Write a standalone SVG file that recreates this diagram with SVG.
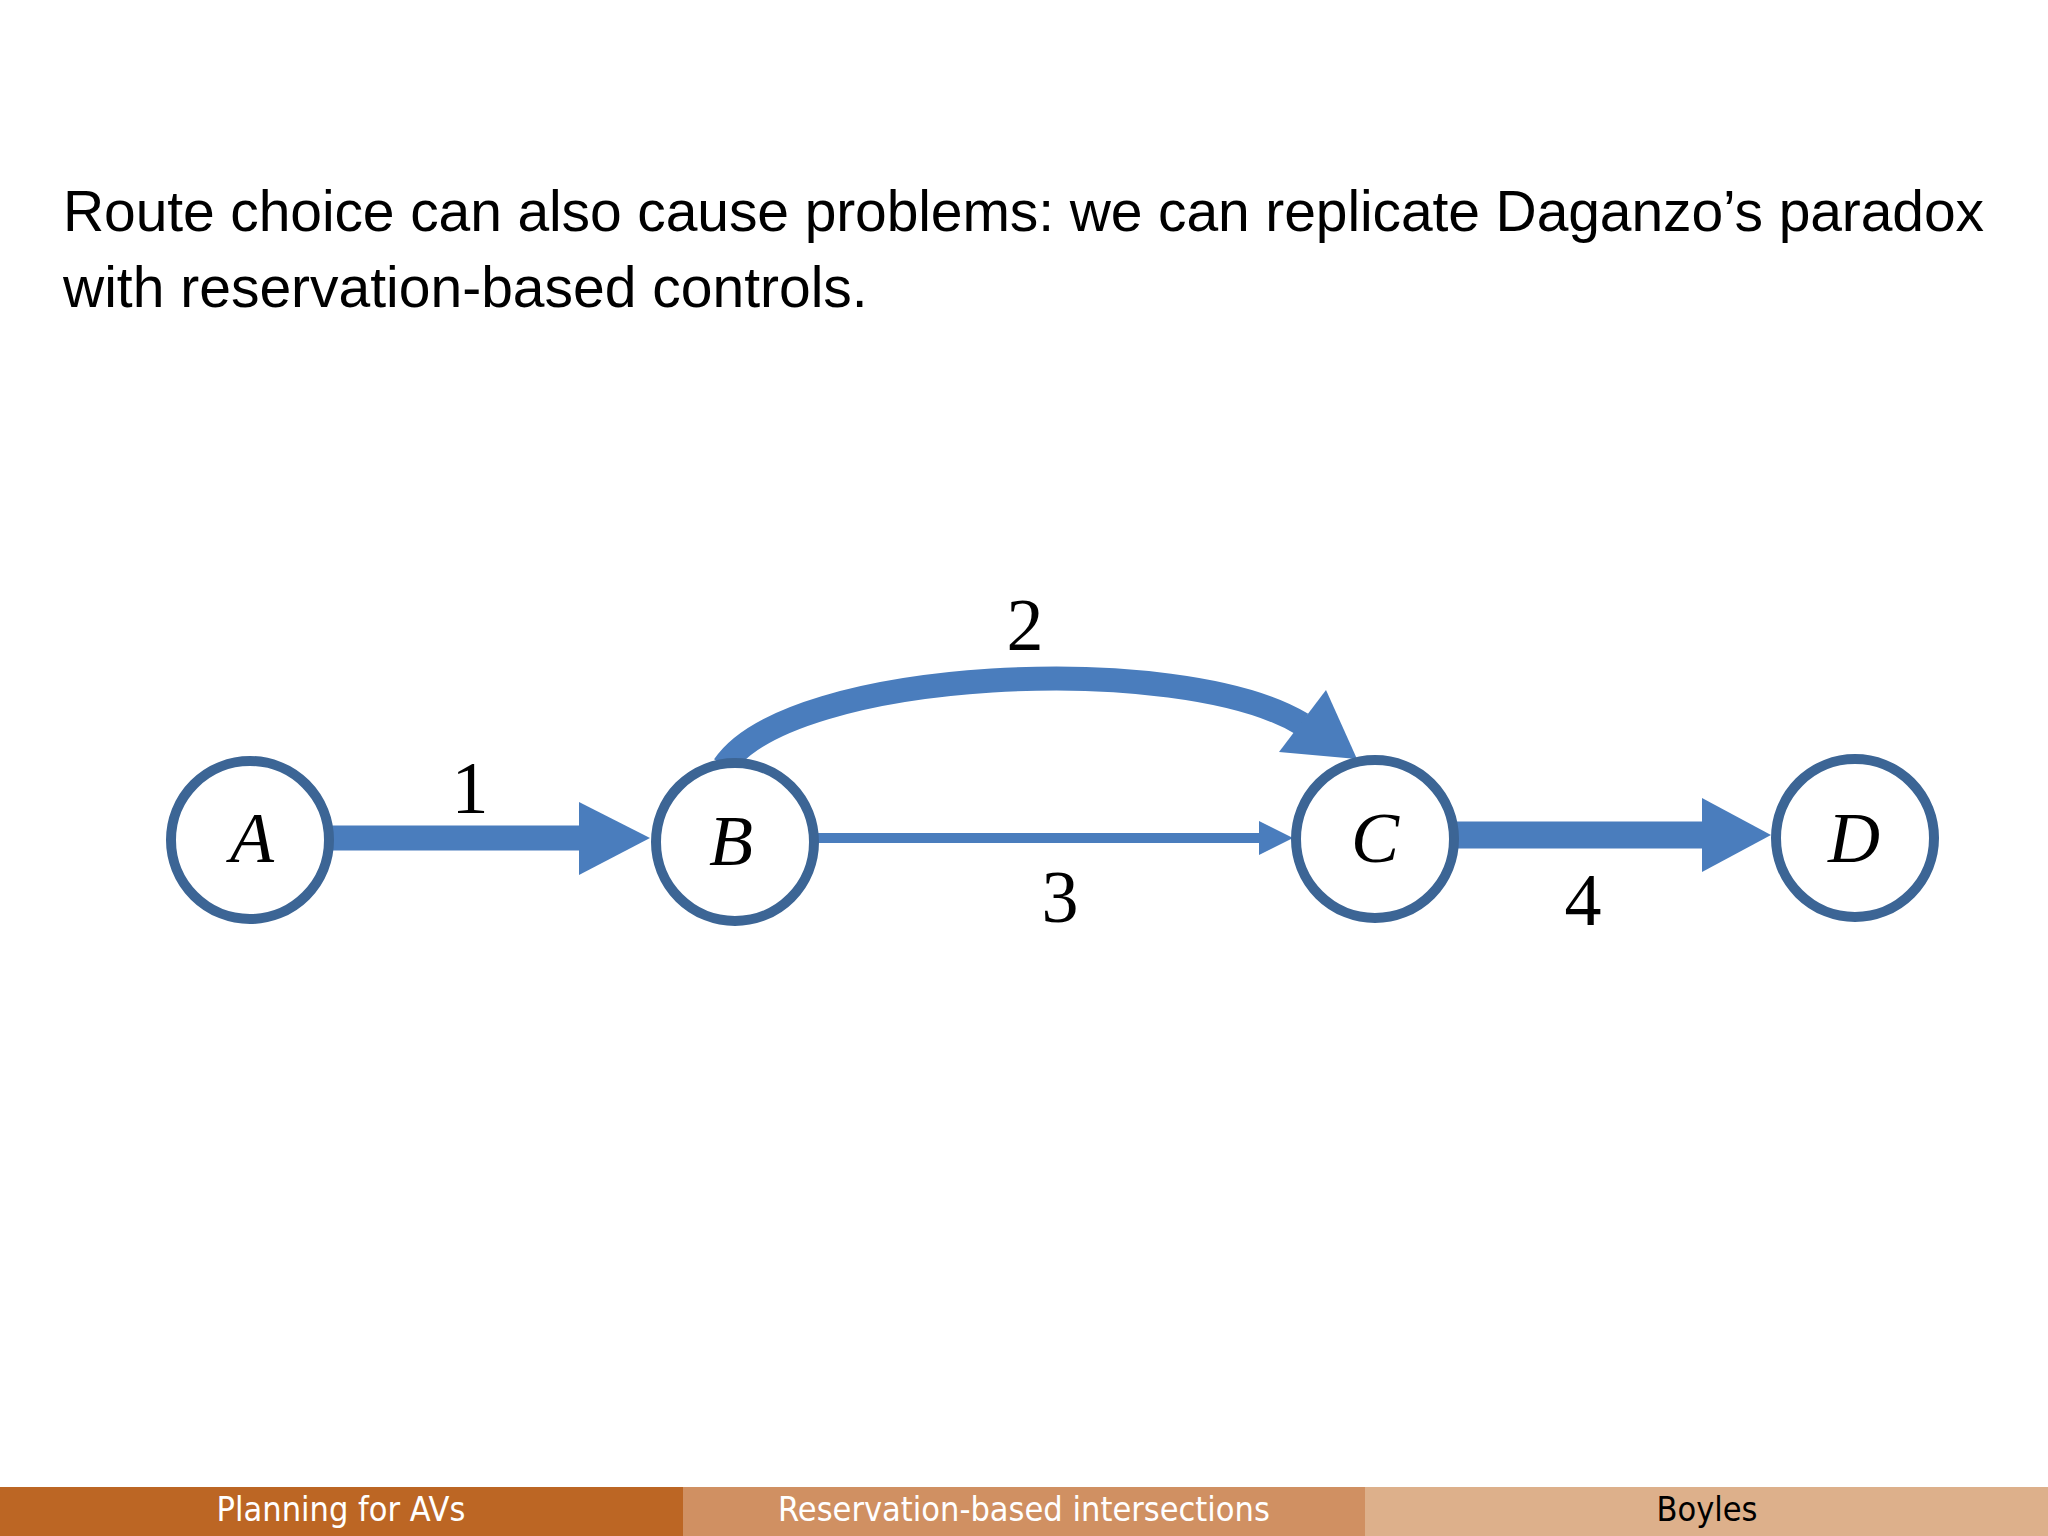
<svg xmlns="http://www.w3.org/2000/svg" width="2048" height="1536" viewBox="0 0 2048 1536">
<style>
.title{font-family:"Liberation Sans",Arial,sans-serif;font-size:57px;fill:#000}
.node circle{fill:#fff;stroke:#3C6595;stroke-width:10}
.node text{font-family:"Liberation Serif","Times New Roman",serif;font-style:italic;font-size:72px;fill:#000;text-anchor:middle}
.lbl{font-family:"Liberation Serif","Times New Roman",serif;font-size:74px;fill:#000;text-anchor:middle}
.edge{stroke:#4A7DBD;fill:none}
.head{fill:#4A7DBD}
.foot{font-family:"DejaVu Sans Condensed","Liberation Sans",sans-serif;font-size:34px;text-anchor:middle}
</style>
<rect width="2048" height="1536" fill="#fff"/>
<text class="title" x="63" y="231" textLength="1921" lengthAdjust="spacing">Route choice can also cause problems: we can replicate Daganzo’s paradox</text>
<text class="title" x="63" y="307">with reservation-based controls.</text>
<g id="connectors">
<g id="e1"><line class="edge" x1="330" y1="838" x2="582" y2="838" stroke-width="25"/><polygon class="head" points="579,802 650,838 579,875"/></g>
<g id="e2"><path class="edge" d="M724 766 C790 668 1180 650 1302 724" stroke-width="24"/><polygon class="head" points="1326,690 1279,752 1357,759"/></g>
<g id="e3"><line class="edge" x1="815" y1="838" x2="1262" y2="838" stroke-width="10"/><polygon class="head" points="1259,821 1293,838 1259,855"/></g>
<g id="e4"><line class="edge" x1="1452" y1="835" x2="1705" y2="835" stroke-width="27"/><polygon class="head" points="1702,798 1771,835 1702,872"/></g>
<text class="lbl" x="470" y="813">1</text>
<text class="lbl" x="1025" y="650">2</text>
<text class="lbl" x="1060" y="922">3</text>
<text class="lbl" x="1583" y="925">4</text>
</g>
<g id="A" class="node"><circle cx="250" cy="840" r="79"/><text x="252" y="862">A</text></g>
<g id="B" class="node"><circle cx="735" cy="842" r="79"/><text x="731" y="865">B</text></g>
<g id="C" class="node"><circle cx="1375" cy="839" r="79"/><text x="1375" y="862">C</text></g>
<g id="D" class="node"><circle cx="1855" cy="838" r="79"/><text x="1854" y="862">D</text></g>
<g id="footer">
<rect x="0" y="1487" width="683" height="49" fill="#BC6624"/>
<rect x="683" y="1487" width="682" height="49" fill="#D09062"/>
<rect x="1365" y="1487" width="683" height="49" fill="#DDB08B"/>
<text class="foot" x="341" y="1521" fill="#fff">Planning for AVs</text>
<text class="foot" x="1024" y="1521" fill="#fff">Reservation-based intersections</text>
<text class="foot" x="1707" y="1521" fill="#000">Boyles</text>
</g>
</svg>
